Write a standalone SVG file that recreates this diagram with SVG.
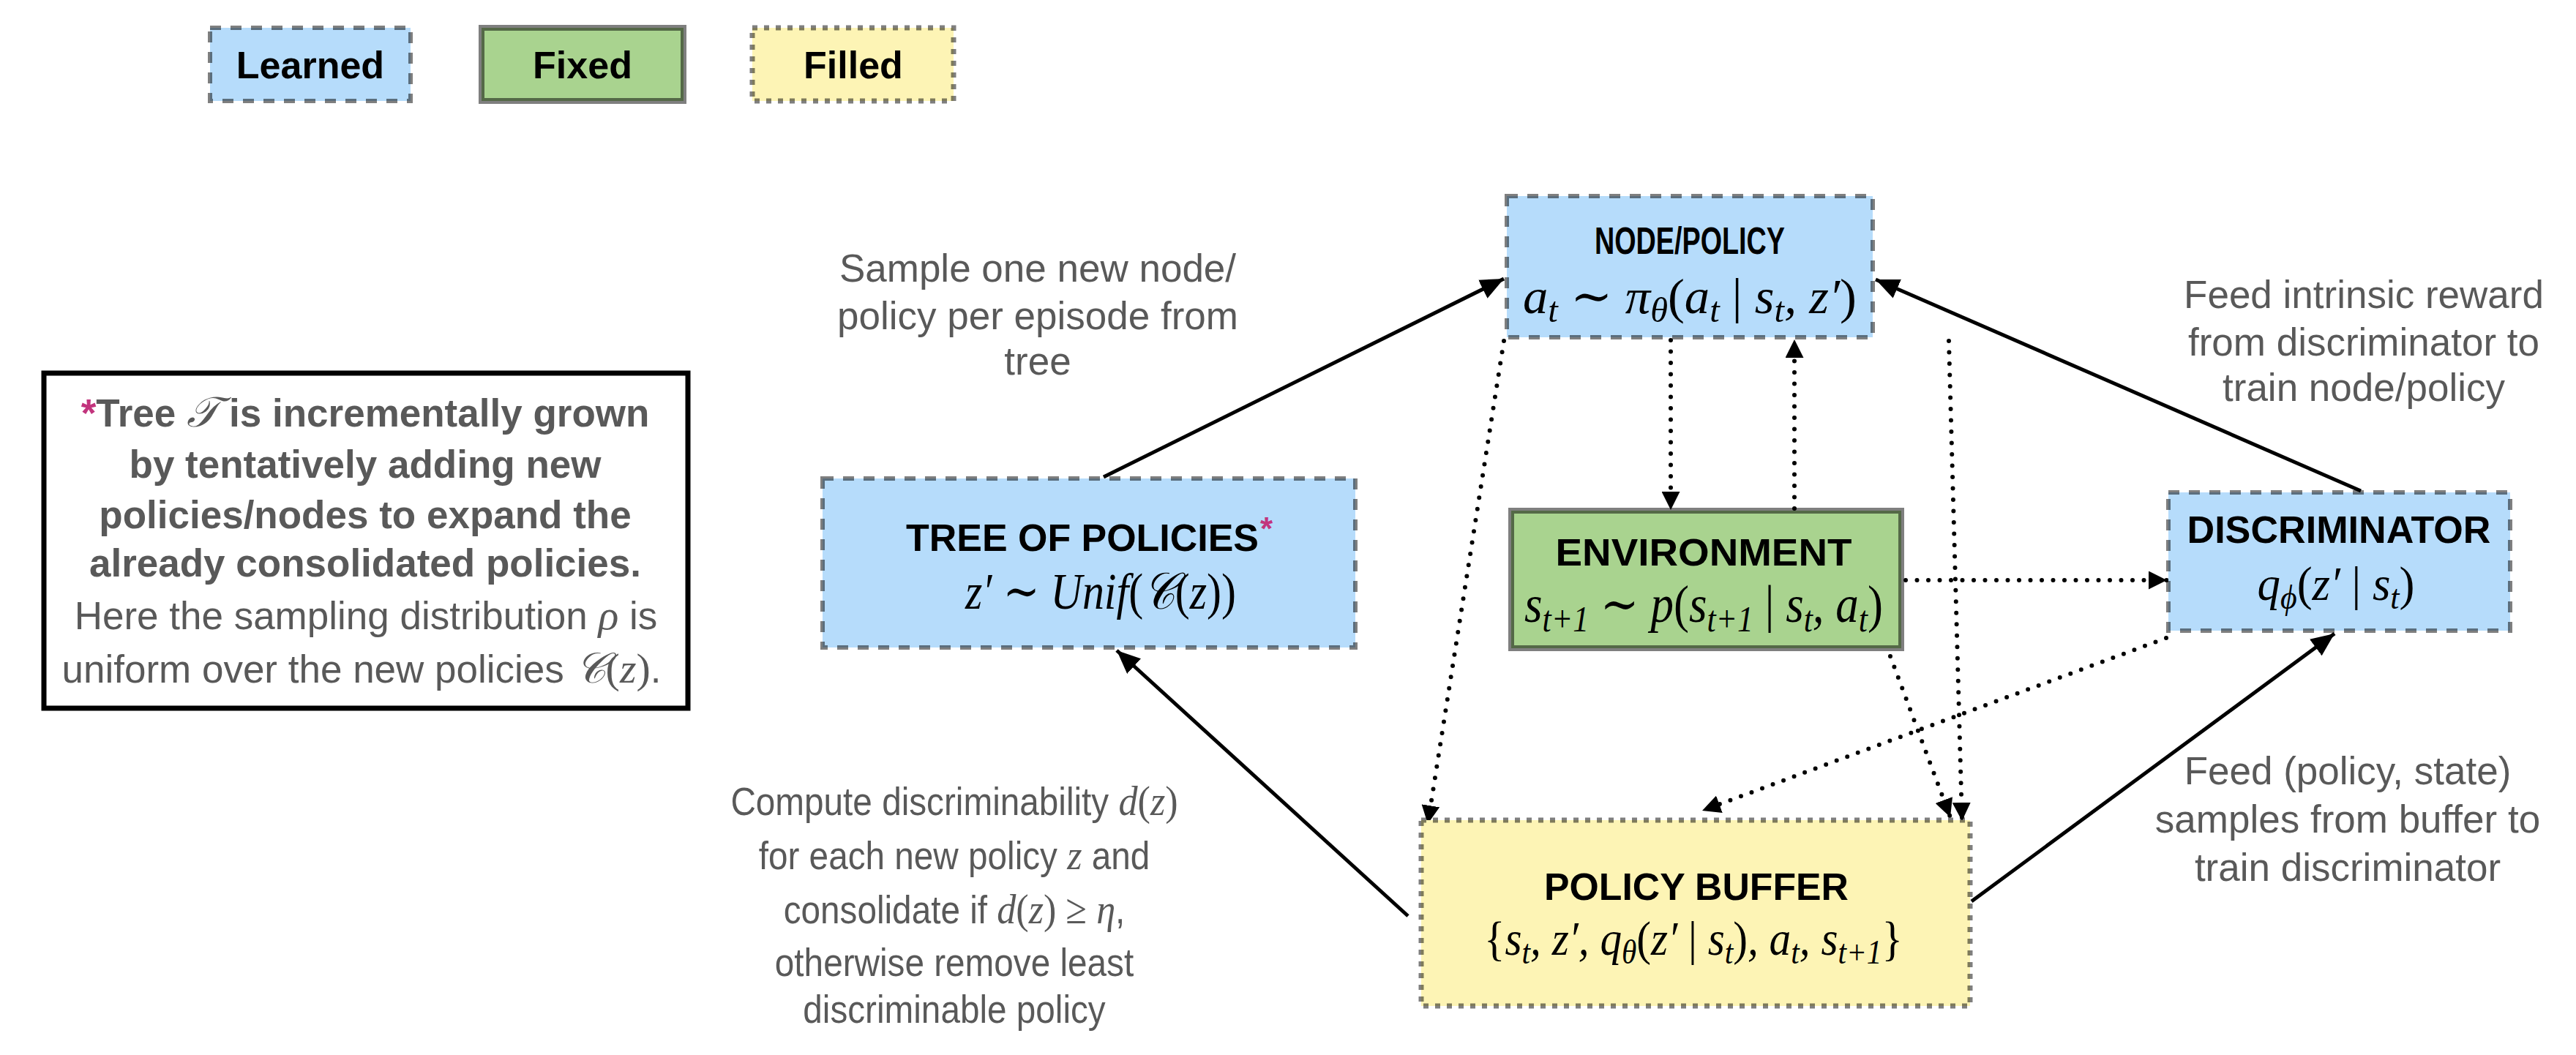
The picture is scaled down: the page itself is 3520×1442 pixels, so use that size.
<svg xmlns="http://www.w3.org/2000/svg" width="3520" height="1442" viewBox="0 0 3520 1442">
<style>
.lbl{font-family:"Liberation Sans",Arial,sans-serif;font-weight:bold;font-size:52px;fill:#000;text-anchor:middle}
.m{font-family:"Liberation Serif","DejaVu Serif",serif;font-style:italic;fill:#000;text-anchor:middle}
.up{font-style:normal}
.ann{font-family:"Liberation Sans",Arial,sans-serif;font-size:53px;fill:#595959;text-anchor:middle}
.nb{font-weight:bold}
.mi{font-family:"Liberation Serif","DejaVu Serif",serif;font-style:italic;font-size:58px}
.mu{font-family:"Liberation Serif","DejaVu Serif",serif;font-style:normal;font-size:58px}
.mag{fill:#c2347d}
.learned{fill:#b6dcfb;stroke:#000;stroke-opacity:.5;stroke-width:6;stroke-dasharray:15 13}
.fixed{fill:#a9d38f;stroke:#000;stroke-opacity:.5;stroke-width:8}
.filled{fill:#fdf4b5;stroke:#000;stroke-opacity:.5;stroke-width:7;stroke-dasharray:7 9}
.solid{stroke:#000;stroke-width:5;fill:none;marker-end:url(#ah)}
.dot{stroke:#000;stroke-width:6;stroke-linecap:round;stroke-dasharray:0 15.5;fill:none;marker-end:url(#ad)}
</style>
<defs>
<marker id="ah" markerUnits="userSpaceOnUse" markerWidth="32" markerHeight="28" refX="32" refY="14" orient="auto"><path d="M0,0 L32,14 L0,28 z" fill="#000"/></marker>
<marker id="ad" markerUnits="userSpaceOnUse" markerWidth="25" markerHeight="25" refX="25" refY="12.5" orient="auto"><path d="M0,0 L25,12.5 L0,25 z" fill="#000"/></marker>
</defs>
<rect width="3520" height="1442" fill="#fff"/>

<g id="legend">
<g id="legend-learned"><rect class="learned" x="287" y="38" width="274" height="100"/><text class="lbl" x="424" y="107">Learned</text></g>
<g id="legend-fixed"><rect class="fixed" x="658" y="38" width="276" height="100"/><text class="lbl" x="796" y="107">Fixed</text></g>
<g id="legend-filled"><rect class="filled" x="1028" y="38" width="275" height="100"/><text class="lbl" x="1166" y="107">Filled</text></g>
</g>

<g id="note">
<rect x="60" y="510" width="880" height="458" fill="#fff" stroke="#000" stroke-width="7"/>
<text class="ann nb" x="499" y="583"><tspan class="mag">*</tspan>Tree <tspan class="mi" font-weight="normal">𝒯</tspan><tspan dx="14">is incrementally grown</tspan></text>
<text class="ann nb" x="499" y="653">by tentatively adding new</text>
<text class="ann nb" x="499" y="722">policies/nodes to expand the</text>
<text class="ann nb" x="499" y="788">already consolidated policies.</text>
<text class="ann" x="500" y="860">Here the sampling distribution <tspan class="mi">ρ</tspan> is</text>
<text class="ann" x="494" y="933">uniform over the new policies <tspan class="mi">𝒞</tspan><tspan class="mu">(</tspan><tspan class="mi">z</tspan><tspan class="mu">)</tspan>.</text>
</g>

<g id="connectors">
<line class="solid" x1="1508" y1="652" x2="2055" y2="381"/>
<line class="solid" x1="3226" y1="671" x2="2563" y2="382"/>
<line class="solid" x1="1924" y1="1252" x2="1526" y2="889"/>
<line class="solid" x1="2694" y1="1232" x2="3190" y2="866"/>
<line class="dot" x1="2283" y1="465" x2="2283" y2="697"/>
<line class="dot" x1="2452" y1="695" x2="2452" y2="464"/>
<line class="dot" x1="2604" y1="793" x2="2961" y2="793"/>
<line class="dot" x1="2055" y1="466" x2="1951" y2="1126"/>
<line class="dot" x1="2663" y1="466" x2="2681" y2="1122"/>
<line class="dot" x1="2583" y1="897" x2="2665" y2="1117"/>
<line class="dot" x1="2960" y1="872" x2="2326" y2="1108"/>
</g>

<g id="annotations">
<text class="ann" x="1418" y="385">Sample one new node/</text>
<text class="ann" x="1418" y="450">policy per episode from</text>
<text class="ann" x="1418" y="512">tree</text>
<text class="ann" x="3230" y="421">Feed intrinsic reward</text>
<text class="ann" x="3230" y="486">from discriminator to</text>
<text class="ann" x="3230" y="548">train node/policy</text>
<text class="ann" x="3208" y="1072">Feed (policy, state)</text>
<text class="ann" x="3208" y="1138">samples from buffer to</text>
<text class="ann" x="3208" y="1204">train discriminator</text>
<g transform="translate(1304 0) scale(0.9 1)">
<text class="ann" x="0" y="1114">Compute discriminability <tspan class="mi">d</tspan><tspan class="mu">(</tspan><tspan class="mi">z</tspan><tspan class="mu">)</tspan></text>
<text class="ann" x="0" y="1188">for each new policy <tspan class="mi">z</tspan> and</text>
<text class="ann" x="0" y="1262">consolidate if <tspan class="mi">d</tspan><tspan class="mu">(</tspan><tspan class="mi">z</tspan><tspan class="mu">) ≥ </tspan><tspan class="mi">η</tspan>,</text>
<text class="ann" x="0" y="1334">otherwise remove least</text>
<text class="ann" x="0" y="1398">discriminable policy</text>
</g>
</g>

<g id="tree-of-policies">
<rect class="learned" x="1124" y="654" width="728" height="231"/>
<text class="lbl" x="1238" y="753" style="text-anchor:start" textLength="482" lengthAdjust="spacingAndGlyphs">TREE OF POLICIES</text>
<text class="lbl mag" x="1722" y="738" style="text-anchor:start;font-size:44px">*</text>
<text class="m" x="1504" y="832" font-size="70" textLength="370" lengthAdjust="spacingAndGlyphs">z′<tspan class="up"> ∼ </tspan>Unif<tspan class="up">(</tspan>𝒞<tspan class="up">(</tspan>z<tspan class="up">))</tspan></text>
</g>

<g id="node-policy">
<rect class="learned" x="2059" y="268" width="500" height="193"/>
<text class="lbl" x="2309" y="347" textLength="260" lengthAdjust="spacingAndGlyphs">NODE/POLICY</text>
<text class="m" x="2309" y="428" font-size="68" textLength="456" lengthAdjust="spacingAndGlyphs">a<tspan font-size="48" baseline-shift="-12">t</tspan><tspan class="up"> ∼ </tspan>π<tspan font-size="48" baseline-shift="-12">θ</tspan><tspan class="up">(</tspan>a<tspan font-size="48" baseline-shift="-12">t</tspan><tspan class="up"> | </tspan>s<tspan font-size="48" baseline-shift="-12">t</tspan>, z′<tspan class="up">)</tspan></text>
</g>

<g id="environment">
<rect class="fixed" x="2065" y="698" width="533" height="188"/>
<text class="lbl" x="2328" y="773" textLength="405" lengthAdjust="spacingAndGlyphs">ENVIRONMENT</text>
<text class="m" x="2328" y="850" font-size="72" textLength="490" lengthAdjust="spacingAndGlyphs">s<tspan font-size="50" baseline-shift="-13">t+1</tspan><tspan class="up"> ∼ </tspan>p<tspan class="up">(</tspan>s<tspan font-size="50" baseline-shift="-13">t+1</tspan><tspan class="up"> | </tspan>s<tspan font-size="50" baseline-shift="-13">t</tspan>, a<tspan font-size="50" baseline-shift="-13">t</tspan><tspan class="up">)</tspan></text>
</g>

<g id="discriminator">
<rect class="learned" x="2963" y="673" width="467" height="189"/>
<text class="lbl" x="3196" y="742" textLength="415" lengthAdjust="spacingAndGlyphs">DISCRIMINATOR</text>
<text class="m" x="3192" y="820" font-size="66" textLength="215" lengthAdjust="spacingAndGlyphs">q<tspan font-size="46" baseline-shift="-12">ϕ</tspan><tspan class="up">(</tspan>z′<tspan class="up"> | </tspan>s<tspan font-size="46" baseline-shift="-12">t</tspan><tspan class="up">)</tspan></text>
</g>

<g id="policy-buffer">
<rect class="filled" x="1942" y="1121" width="750" height="254"/>
<text class="lbl" x="2318" y="1230" textLength="416" lengthAdjust="spacingAndGlyphs">POLICY BUFFER</text>
<text class="m" x="2314" y="1305" font-size="66" textLength="572" lengthAdjust="spacingAndGlyphs"><tspan class="up">{</tspan>s<tspan font-size="46" baseline-shift="-12">t</tspan>, z′, q<tspan font-size="46" baseline-shift="-12">θ</tspan><tspan class="up">(</tspan>z′<tspan class="up"> | </tspan>s<tspan font-size="46" baseline-shift="-12">t</tspan><tspan class="up">)</tspan>, a<tspan font-size="46" baseline-shift="-12">t</tspan>, s<tspan font-size="46" baseline-shift="-12">t+1</tspan><tspan class="up">}</tspan></text>
</g>
</svg>
